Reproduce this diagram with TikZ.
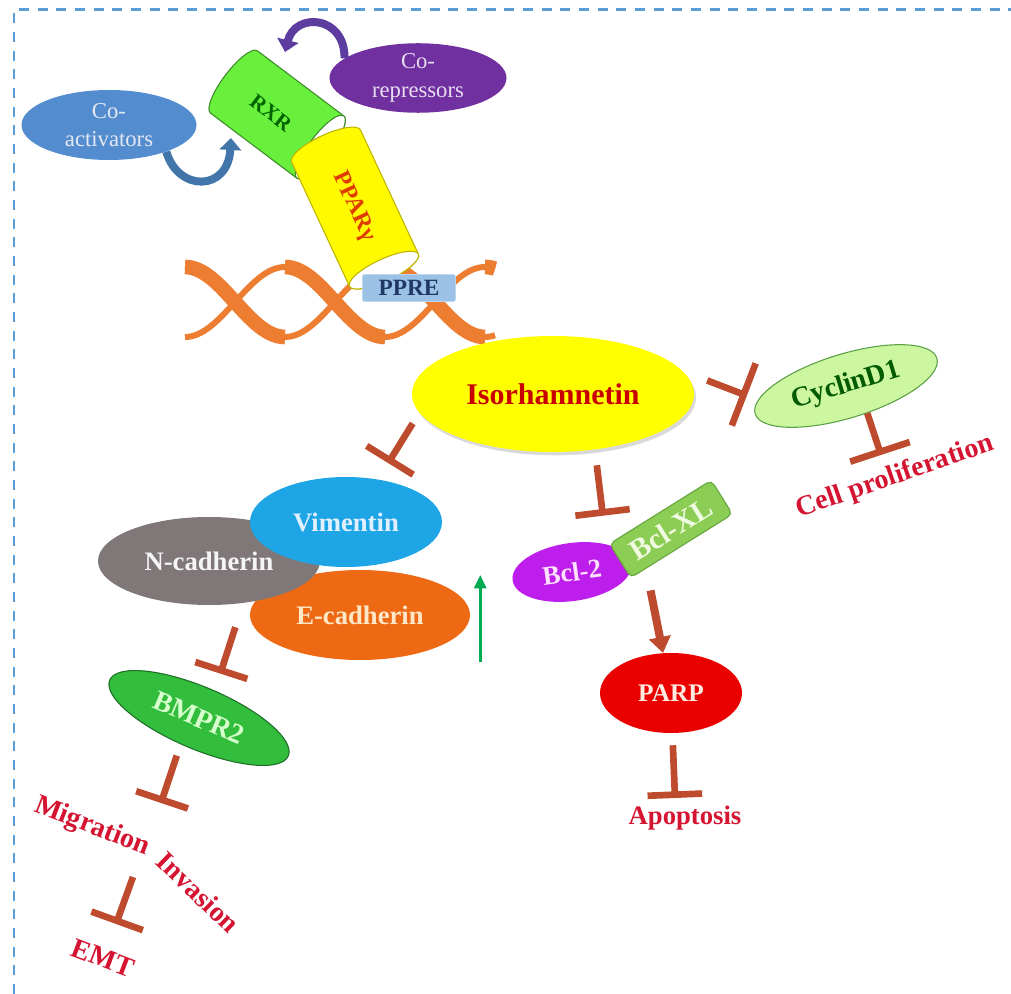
\documentclass[tikz,border=0pt]{standalone}
\usepackage{fontspec}
\setmainfont{Liberation Serif}
\usetikzlibrary{arrows.meta,shapes.geometric,shadows}

\begin{document}
\begin{tikzpicture}[x=0.75pt,y=0.75pt,yscale=-1,xscale=1,
	blob/.style={ellipse, inner sep=0pt, align=center},
	bfs/.style={font=\bfseries\fontsize{#1}{#1}\selectfont},
	redtxt/.style={inner sep=0pt, text={rgb, 255:red, 212; green, 20; blue, 48}, bfs=21},
	inhib/.style={draw={rgb, 255:red, 190; green, 75; blue, 45}, line width=5pt, -{Bar[width=#1]}},
	inhib/.default=41pt,
	actarrow/.style={draw={rgb, 255:red, 190; green, 75; blue, 45}, line width=6pt, -{Triangle[width=16pt,length=12pt]}},
	uparrow/.style={draw={rgb, 255:red, 0; green, 170; blue, 80}, line width=2.2pt, -{Triangle[width=9pt,length=10pt]}},
	curl/.style={draw={#1}, line width=6pt, -{Triangle[width=16pt,length=9pt]}},
	dna/.style={draw={rgb, 255:red, 237; green, 125; blue, 49}},
	cylbody/.style={line width=0.8pt},
	dashframe/.style={draw={rgb, 255:red, 91; green, 155; blue, 213}, line width=1.6pt, dash pattern=on 7.5pt off 6.5pt}
	]
	\useasboundingbox (0,0) rectangle (1011,994);
	% dashed frame
	\draw [dashframe] (14,994) -- (14,9.5) -- (1011,9.5) ;

	%DNA helix: back faces thin, front faces wide
	\draw [dna, line width=4.5pt] plot [domain=185:495, samples=80, smooth] (\x,{302-35*cos(1.8*(\x-185))}) ;
	\draw [dna, line width=4.5pt] plot [domain=185:495, samples=80, smooth] (\x,{302+35*cos(1.8*(\x-185))}) ;
	\draw [dna, line width=11pt] plot [domain=185:285, samples=30, smooth] (\x,{302-35*cos(1.8*(\x-185))}) ;
	\draw [dna, line width=11pt] plot [domain=385:485, samples=30, smooth] (\x,{302-35*cos(1.8*(\x-185))}) ;
	\draw [dna, line width=11pt] plot [domain=285:385, samples=30, smooth] (\x,{302+35*cos(1.8*(\x-185))}) ;
	\draw [dna, line width=11pt] plot [domain=485:495, samples=5, smooth] (\x,{302+35*cos(1.8*(\x-185))}) ;

	%Shape: Cylinder RXR
	\begin{scope}[shift={(234,82)}, rotate=37]
		\draw [cylbody, draw={rgb, 255:red, 60; green, 140; blue, 40}, fill={rgb, 255:red, 105; green, 240; blue, 60}] (0,-39) -- (108,-39) arc [start angle=-90, end angle=90, x radius=11, y radius=39] -- (0,39) arc [start angle=90, end angle=270, x radius=11, y radius=39] -- cycle ;
		\draw [cylbody, draw={rgb, 255:red, 60; green, 140; blue, 40}, fill=white] (108,0) ellipse [x radius=11, y radius=39] ;
	\end{scope}
	%Shape: Cylinder PPARg
	\begin{scope}[shift={(326,146)}, rotate=65]
		\draw [cylbody, draw={rgb, 255:red, 190; green, 180; blue, 0}, fill={rgb, 255:red, 255; green, 250; blue, 0}] (0,-38) -- (137,-38) arc [start angle=-90, end angle=90, x radius=11, y radius=38] -- (0,38) arc [start angle=90, end angle=270, x radius=11, y radius=38] -- cycle ;
		\draw [cylbody, draw={rgb, 255:red, 190; green, 180; blue, 0}, fill=white] (137,0) ellipse [x radius=11, y radius=38] ;
	\end{scope}
	\node [rotate=-37, inner sep=0pt, text={rgb, 255:red, 0; green, 100; blue, 0}, bfs=16] (rxr) at (271,113) {RXR};
	\node [rotate=-65, inner sep=0pt, text={rgb, 255:red, 225; green, 60; blue, 0}, bfs=18] (ppar) at (354,207) {PPARγ};
	\node [draw={rgb, 255:red, 190; green, 215; blue, 240}, fill={rgb, 255:red, 155; green, 194; blue, 230}, rounded corners=1.5pt, minimum width=69.75pt, minimum height=20.25pt, inner sep=0pt, text={rgb, 255:red, 31; green, 56; blue, 100}, bfs=17.5] (ppre) at (409,288) {PPRE};

	% co-regulators
	\node [blob, fill={rgb, 255:red, 84; green, 141; blue, 207}, minimum width=131.25pt, minimum height=52.5pt, text={rgb, 255:red, 228; green, 232; blue, 242}, font=\fontsize{17}{21}\selectfont] (coact) at (109,125) {Co-\\activators};
	\node [blob, fill={rgb, 255:red, 112; green, 48; blue, 160}, minimum width=132.75pt, minimum height=47.25pt, text={rgb, 255:red, 232; green, 222; blue, 242}, font=\fontsize{17}{22}\selectfont] (corep) at (418,78) {Co-\\repressors};
	\coordinate (coactin) at (231,138);
	\coordinate (corepin) at (285,52);
	\draw [curl={rgb, 255:red, 66; green, 118; blue, 170}] (coact.-25) .. controls (178,192) and (228,192) .. (coactin) ;
	\draw [curl={rgb, 255:red, 92; green, 60; blue, 158}] (corep.165) .. controls (345,15) and (295,12) .. (corepin) ;

	%Shape: Ellipse
	\node [blob, fill={rgb, 255:red, 255; green, 255; blue, 0}, drop shadow={shadow xshift=1.5pt, shadow yshift=-2.5pt, opacity=0.3}, minimum width=211.5pt, minimum height=87pt, text={rgb, 255:red, 200; green, 0; blue, 0}, bfs=22.5] (iso) at (553,394) {Isorhamnetin};
	\node [blob, rotate=17, draw={rgb, 255:red, 90; green, 160; blue, 70}, line width=0.8pt, fill={rgb, 255:red, 204; green, 246; blue, 160}, minimum width=142.5pt, minimum height=48pt, text={rgb, 255:red, 0; green, 90; blue, 0}, bfs=21] (cyc) at (846,386) {CyclinD1};

	% EMT markers
	\node [blob, fill={rgb, 255:red, 237; green, 105; blue, 20}, minimum width=165pt, minimum height=67.5pt, text={rgb, 255:red, 255; green, 232; blue, 200}, bfs=20] (ecad) at (360,615) {E-cadherin};
	\node [blob, fill={rgb, 255:red, 128; green, 120; blue, 120}, minimum width=166.5pt, minimum height=66pt, text={rgb, 255:red, 245; green, 245; blue, 245}, bfs=20] (ncad) at (209,561) {N-cadherin};
	\node [blob, fill={rgb, 255:red, 30; green, 165; blue, 230}, minimum width=144pt, minimum height=67.5pt, text={rgb, 255:red, 225; green, 240; blue, 255}, bfs=20] (vim) at (346,522) {Vimentin};
	\node [blob, rotate=-23, draw={rgb, 255:red, 30; green, 110; blue, 40}, line width=0.8pt, fill={rgb, 255:red, 50; green, 190; blue, 60}, minimum width=145.5pt, minimum height=46.5pt, text={rgb, 255:red, 215; green, 255; blue, 205}, bfs=21] (bmpr) at (199,718) {BMPR2};

	% apoptosis branch
	\node [blob, rotate=8, fill={rgb, 255:red, 190; green, 30; blue, 235}, minimum width=90pt, minimum height=43.5pt, text={rgb, 255:red, 255; green, 225; blue, 255}, bfs=20] (bcl2) at (572,572) {Bcl-2};
	\node [rectangle, rounded corners=4pt, rotate=32, draw={rgb, 255:red, 100; green, 165; blue, 60}, line width=0.8pt, fill={rgb, 255:red, 140; green, 205; blue, 85}, minimum width=90pt, minimum height=30pt, inner sep=0pt, text={rgb, 255:red, 240; green, 250; blue, 225}, bfs=22] (bclxl) at (671,529) {Bcl-XL};
	\node [blob, fill={rgb, 255:red, 235; green, 0; blue, 0}, minimum width=106.5pt, minimum height=60pt, text={rgb, 255:red, 255; green, 235; blue, 225}, bfs=19] (parp) at (671,693) {PARP};

	% outcomes
	\node [redtxt, rotate=19] (cell) at (895,477) {Cell proliferation};
	\node [redtxt, rotate=-21] (mig) at (92,827) {Migration};
	\node [redtxt, rotate=-44] (inv) at (198,892) {Invasion};
	\node [redtxt, rotate=-21] (emt) at (103,958) {EMT};
	\node [redtxt, anchor=base, bfs=20] (apo) at (685,824) {Apoptosis};
	\coordinate (cellT) at (881,455);
	\coordinate (migT) at (161,803);
	\coordinate (emtS) at (133,877);
	\coordinate (emtT) at (116,924);
	\coordinate (apoT) at (675,798);

	%Straight Lines: inhibition
	\draw [inhib=50pt, shorten <=19.5pt, shorten >=8.9pt] (iso.10) -- (cyc.172) ;
	\draw [inhib=47pt] (cyc.-69) -- (cellT) ;
	\draw [inhib, shorten <=9.4pt, shorten >=14.3pt] (iso.188) -- (vim.53) ;
	\draw [inhib, shorten <=11.8pt, shorten >=21.5pt] (iso.-53) -- (bcl2.31) ;
	\draw [inhib, shorten <=19pt, shorten >=13.3pt] (ncad.-51) -- (bmpr.83) ;
	\draw [inhib, shorten <=8.9pt] (bmpr.-102) -- (migT) ;
	\draw [inhib] (emtS) -- (emtT) ;
	\draw [inhib, shorten <=9pt] (parp.-88) -- (apoT) ;
	%Straight Lines: activation
	\draw [actarrow, shorten <=16.6pt] (bclxl.-154) -- (parp) ;
	\draw [uparrow] (ecad.east) ++(10,47) -- ++(0,-87) ;
\end{tikzpicture}
\end{document}
